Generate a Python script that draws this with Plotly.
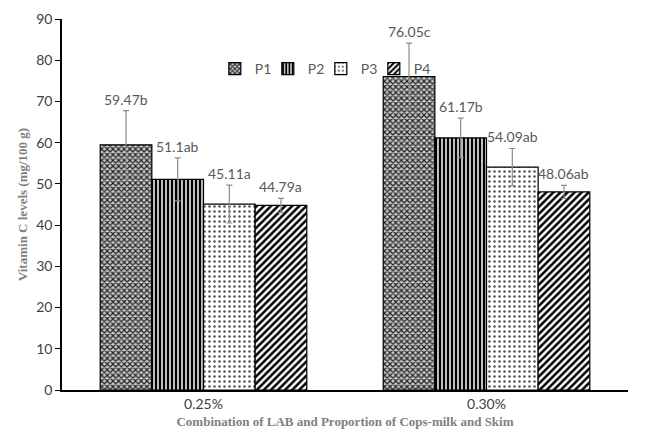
import plotly.graph_objects as go

categories = ["0.25%", "0.30%"]
series_names = ["P1", "P2", "P3", "P4"]
values = {
    "P1": [59.47, 76.05],
    "P2": [51.1, 61.17],
    "P3": [45.11, 54.09],
    "P4": [44.79, 48.06],
}
errors = {
    "P1": [8.3, 8.1],
    "P2": [5.2, 4.8],
    "P3": [4.6, 4.5],
    "P4": [1.7, 1.6],
}
labels = {
    "P1": ["59.47b", "76.05c"],
    "P2": ["51.1ab", "61.17b"],
    "P3": ["45.11a", "54.09ab"],
    "P4": ["44.79a", "48.06ab"],
}
patterns = {
    "P1": dict(shape="x", size=4, solidity=0.5, fgcolor="#222222", bgcolor="#c8c8c8"),
    "P2": dict(shape="|", size=4, solidity=0.5, fgcolor="#000000", bgcolor="#bfbfbf"),
    "P3": dict(shape=".", size=5, solidity=0.2, fgcolor="#555555", bgcolor="#ffffff"),
    "P4": dict(shape="/", size=5, solidity=0.5, fgcolor="#000000", bgcolor="#ffffff"),
}

FONT = "Lato, Open Sans, Liberation Sans"
bargap = 0.27
fig = go.Figure()
for name in series_names:
    fig.add_trace(go.Bar(
        name=name, x=categories, y=values[name],
        marker=dict(color="white", line=dict(color="black", width=1.2),
                    pattern=dict(fillmode="replace", **patterns[name])),
        error_y=dict(type="data", array=errors[name], visible=True,
                     color="#8c8c8c", thickness=1.2, width=3),
    ))
# invisible spacer entry so the last legend label is not clipped
fig.add_trace(go.Scatter(x=[None], y=[None], mode="markers", name=" ",
                         marker=dict(color="rgba(0,0,0,0)", line=dict(width=0)),
                         hoverinfo="skip"))

bw = (1 - bargap) / len(series_names)
annotations = []
for i, name in enumerate(series_names):
    off = (i - (len(series_names) - 1) / 2) * bw
    for j, cat in enumerate(categories):
        annotations.append(dict(
            x=j + off, y=values[name][j] + errors[name][j], xref="x", yref="y",
            text=labels[name][j], showarrow=False, yanchor="bottom", yshift=1,
            font=dict(family=FONT, size=14, color="#595959"),
        ))

fig.update_layout(
    width=651, height=430,
    margin=dict(l=54, r=31, t=11, b=48, autoexpand=False),
    paper_bgcolor="white", plot_bgcolor="white",
    barmode="group", bargap=bargap, bargroupgap=0,
    showlegend=True,
    legend=dict(orientation="h", x=0.27, y=0.865, xanchor="left", yanchor="middle",
                font=dict(family=FONT, size=14, color="#595959"),
                itemwidth=30, entrywidth=8, entrywidthmode="pixels",
                tracegroupgap=0, bgcolor="rgba(0,0,0,0)"),
    annotations=annotations,
    xaxis=dict(type="category", showline=True, linecolor="black", linewidth=1.5,
               automargin=False, ticks="",
               tickfont=dict(family=FONT, size=14, color="#404040"),
               title=dict(text="<b>Combination of LAB and Proportion of Cops-milk and Skim</b>",
                          font=dict(family="Liberation Serif", size=13, color="#7f7f7f"), standoff=6)),
    yaxis=dict(range=[0, 90], dtick=10, showgrid=False, zeroline=False,
               showline=True, linecolor="black", linewidth=1.5, automargin=False,
               ticks="outside", ticklen=5, tickcolor="black",
               tickfont=dict(family=FONT, size=14, color="#404040"),
               title=dict(text="<b>Vitamin C levels (mg/100 g)</b>",
                          font=dict(family="Liberation Serif", size=13, color="#7f7f7f"), standoff=6)),
)

fig.write_html("out.html")
